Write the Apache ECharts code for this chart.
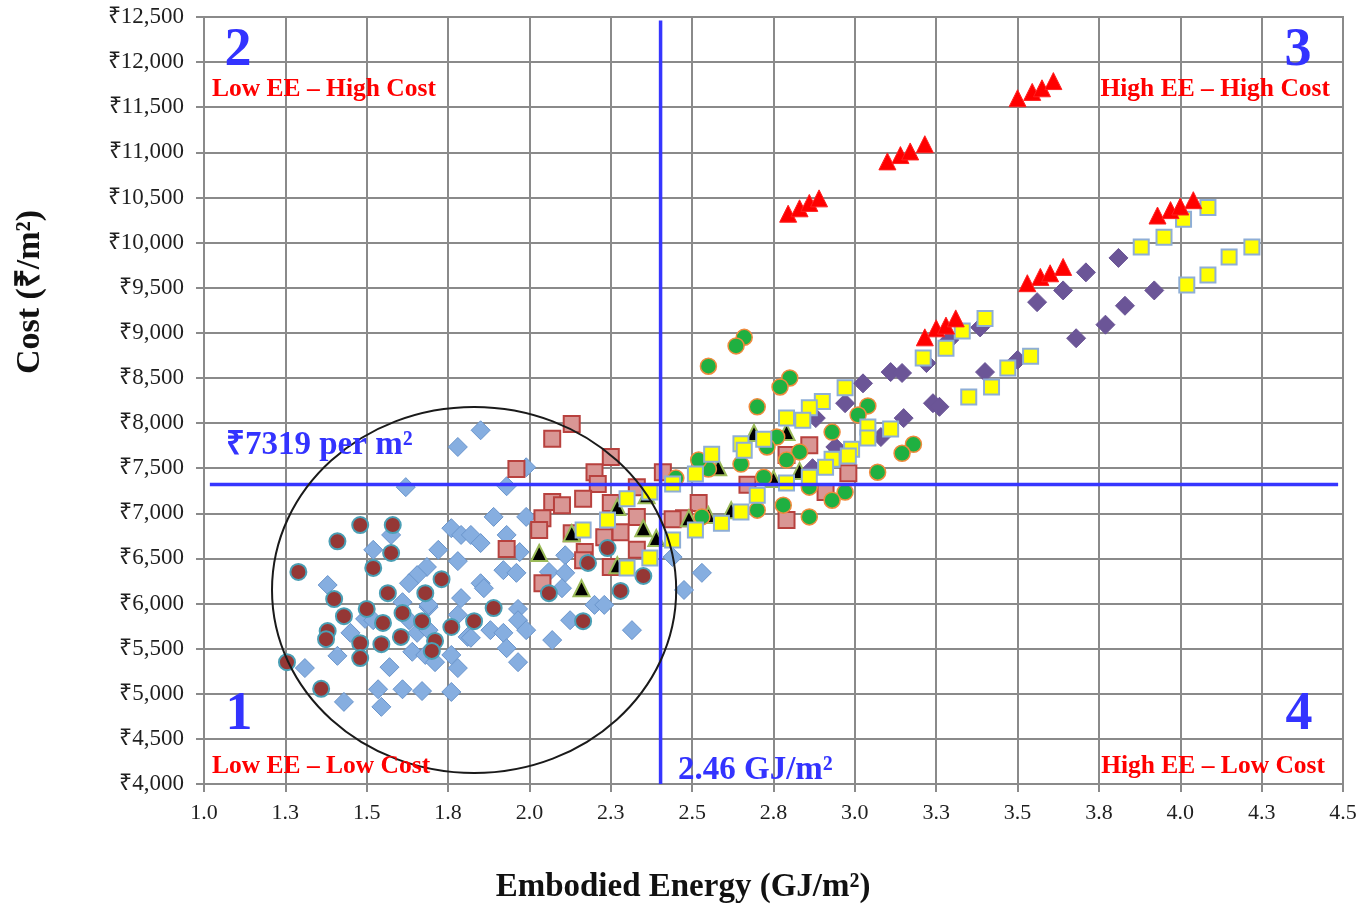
<!DOCTYPE html>
<html><head><meta charset="utf-8">
<script src="https://cdn.jsdelivr.net/npm/echarts@6/dist/echarts.min.js"></script>
<style>html,body{margin:0;padding:0;background:#fff}#c{width:1361px;height:907px}</style>
</head><body><div id="c"></div>
<script>
// ---- data (x = embodied energy GJ/m², y = cost ₹/m²) ----
const blueDiamonds = [
 [1.78,7735],[1.85,7920],[1.62,7290],[1.99,7510],[1.93,7300],[1.52,6595],[1.575,6760],[1.72,6595],
 [1.76,6835],[1.79,6760],[1.78,6470],[1.685,6405],[1.655,6315],[1.63,6225],[1.38,6205],[1.69,5960],
 [1.79,6060],[1.61,6015],[1.495,5830],[1.52,5815],[1.63,5815],[1.78,5875],[1.655,5675],[1.69,5705],
 [1.45,5675],[1.81,5630],[1.41,5420],[1.64,5465],[1.68,5430],[1.71,5350],[1.76,5430],[1.31,5285],
 [1.57,5295],[1.78,5285],[1.535,5050],[1.61,5050],[1.67,5030],[1.76,5020],[1.43,4910],[1.545,4855],
 [1.89,6960],[1.99,6960],[1.82,6760],[1.85,6670],[1.93,6760],[1.97,6570],[2.11,6535],[1.92,6370],
 [1.96,6340],[2.06,6350],[2.11,6340],[1.85,6225],[1.86,6170],[2.10,6170],[1.965,5940],[2.20,5985],
 [2.23,5985],[1.965,5815],[2.125,5815],[1.88,5705],[1.92,5675],[1.99,5705],[2.315,5705],[2.07,5595],
 [1.82,5620],[1.93,5505],[1.965,5350],[2.44,6515],[2.475,6150],[2.53,6340],[1.69,5985]
];
const pinkSquares = [
 [2.13,7990],[2.07,7825],[2.25,7625],[1.96,7490],[2.20,7455],[2.41,7455],[2.21,7325],[2.33,7290],
 [2.07,7125],[2.10,7090],[2.165,7160],[2.25,7115],[2.04,6945],[2.03,6815],[2.33,6960],[2.13,6780],
 [2.23,6735],[2.28,6790],[1.93,6605],[2.17,6570],[2.165,6480],[2.33,6595],[2.25,6405],[2.04,6225],
 [2.86,7755],[2.79,7645],[2.98,7445],[2.91,7235],[2.67,7315],[2.52,7115],[2.475,6945],[2.44,6935],
 [2.79,6925]
];
const darkRedCircles = [
 [1.48,6870],[1.58,6870],[1.41,6690],[1.575,6560],[1.29,6350],[1.52,6395],[1.73,6270],[1.40,6050],
 [1.565,6115],[1.68,6115],[1.43,5860],[1.50,5940],[1.61,5895],[1.55,5785],[1.67,5805],[1.76,5740],
 [1.38,5695],[1.375,5605],[1.48,5560],[1.545,5550],[1.605,5630],[1.71,5585],[1.70,5475],[1.48,5395],
 [1.255,5350],[1.36,5055],[2.24,6615],[2.18,6450],[2.35,6305],[2.06,6115],[2.28,6140],[1.89,5950],
 [1.83,5805],[2.165,5805]
];
const blackTriangles = [
 [2.03,6560],[2.16,6170],[2.13,6780],[2.27,7070],[2.35,6835],[2.39,6725],[2.27,6425],[2.36,7200],
 [2.49,6945],[2.55,6980],[2.62,7035],[2.58,7510],[2.69,7890],[2.79,7900],[2.75,7380],[2.83,7470],
 [2.94,7735]
];
const purpleDiamonds = [
 [3.81,9830],[3.71,9670],[3.64,9470],[3.56,9340],[3.92,9470],[3.83,9300],[3.77,9090],[3.68,8940],
 [3.50,8700],[3.40,8565],[3.385,9060],[3.29,8920],[3.22,8665],[3.11,8565],[3.145,8555],[3.24,8220],
 [3.26,8180],[3.15,8055],[3.08,7845],[3.025,8440],[2.97,8220],[2.88,8055],[2.94,7735],[2.87,7500]
];
const greenCircles = [
 [2.66,8950],[2.635,8855],[2.55,8630],[2.80,8500],[2.77,8400],[2.70,8180],[3.04,8190],[3.01,8090],
 [2.93,7900],[2.76,7845],[2.73,7735],[2.83,7680],[2.79,7590],[2.65,7545],[2.55,7490],[2.52,7590],
 [2.72,7400],[3.07,7455],[2.86,7290],[2.97,7235],[2.93,7145],[2.70,7035],[2.78,7090],[2.86,6960],
 [2.53,6960],[2.45,7390],[3.18,7765],[3.145,7665]
];
const yellowSquares = [
 [4.085,10390],[4.01,10260],[3.95,10060],[3.88,9950],[4.22,9950],[4.15,9840],[4.085,9640],[4.02,9530],
 [3.40,9160],[3.33,9020],[3.28,8830],[3.21,8720],[3.54,8740],[3.47,8610],[3.42,8400],[3.35,8290],
 [2.97,8390],[2.90,8240],[2.86,8170],[2.79,8055],[2.84,8030],[3.04,7955],[3.11,7935],[3.04,7835],
 [2.99,7710],[2.93,7600],[2.91,7510],[2.98,7635],[2.86,7400],[2.72,7820],[2.65,7770],[2.66,7700],
 [2.56,7655],[2.51,7435],[2.44,7325],[2.79,7335],[2.70,7200],[2.65,7015],[2.59,6890],[2.51,6815],
 [2.44,6705],[2.37,7235],[2.30,7160],[2.24,6925],[2.165,6815],[2.37,6505],[2.30,6395]
];
const redTriangles = [
 [3.50,11600],[3.545,11670],[3.575,11710],[3.61,11790],
 [3.10,10900],[3.14,10970],[3.17,11010],[3.215,11090],
 [2.795,10320],[2.83,10380],[2.86,10440],[2.89,10490],
 [3.93,10300],[3.97,10360],[4.00,10400],[4.04,10470],
 [3.53,9550],[3.57,9620],[3.60,9660],[3.64,9730],
 [3.215,8950],[3.25,9050],[3.28,9080],[3.31,9160]
];
// reference lines and annotation geometry (data units)
const avgCost = 7319;
const avgCostSpan = [1.018, 4.485];
const eeLineX = 2.403;
const eeLineSpan = [4000, 12460];
const ellipseCenter = [1.83, 6150];
const ellipseRadii = [0.621, 2028];
// axis ticks
const xMin = 1.0, xMax = 4.5, xStep = 0.25;
const yMin = 4000, yMax = 12500, yStep = 500;
// texts
const xTitle = 'Embodied Energy (GJ/m²)';
const yTitle = 'Cost (₹/m²)';
const avgCostLabel = '₹7319 per m²';
const eeLabel = '2.46 GJ/m²';
const quadNums = ['1','2','3','4'];
const quadLabels = ['Low EE – Low Cost','Low EE – High Cost','High EE – High Cost','High EE – Low Cost'];

const serif = "'Liberation Serif','Times New Roman',serif";
const gridCol = '#8a8a8a';
const chart = echarts.init(document.getElementById('c'), null, {renderer:'canvas'});

function sc(name, data, symbol, size, fill, border, bw) {
  return {type:'scatter', name, data, symbol, symbolSize:size,
    itemStyle:{color:fill, borderColor:border, borderWidth:bw, opacity:1},
    emphasis:{disabled:true}, silent:true, animation:false};
}
const refLine = (data) => ({type:'line', data, showSymbol:false, symbol:'none', z:5, silent:true,
  lineStyle:{color:'#3636ff', width:3.5}, animation:false});

chart.setOption({
  animation:false,
  backgroundColor:'#ffffff',
  grid:{left:204, right:18, top:17, bottom:123, show:true, borderColor:gridCol, borderWidth:2, outerBoundsMode:'none'},
  xAxis:{type:'value', min:xMin, max:xMax, interval:xStep,
    axisLine:{show:true, onZero:false, lineStyle:{color:gridCol, width:2}},
    axisTick:{show:true, length:8, lineStyle:{color:gridCol, width:2}},
    splitLine:{show:true, lineStyle:{color:gridCol, width:2}},
    axisLabel:{formatter:v=>v.toFixed(1), fontFamily:serif, fontSize:22, color:'#1f1f1f', margin:18, hideOverlap:false}},
  yAxis:{type:'value', min:yMin, max:yMax, interval:yStep,
    axisLine:{show:true, onZero:false, lineStyle:{color:gridCol, width:2}},
    axisTick:{show:true, length:8, lineStyle:{color:gridCol, width:2}},
    splitLine:{show:true, lineStyle:{color:gridCol, width:2}},
    axisLabel:{formatter:v=>'₹'+v.toLocaleString('en-US'), fontFamily:serif, fontSize:23, color:'#1f1f1f', margin:20, hideOverlap:false}},
  series:[
    sc('blue', blueDiamonds, 'diamond', 19, '#86aee0', '#6a95cc', 1),
    sc('pink', pinkSquares, 'rect', 16, '#d99694', '#b8413e', 2),
    sc('darkred', darkRedCircles, 'circle', 16, '#953735', '#4a9fb5', 2),
    sc('black', blackTriangles, 'triangle', 16, '#000000', '#9bbb59', 2),
    sc('purple', purpleDiamonds, 'diamond', 19, '#6b5597', '#6b5597', 1),
    sc('green', greenCircles, 'circle', 16, '#1fb041', '#f08a3c', 1.5),
    sc('yellow', yellowSquares, 'rect', 15, '#ffff00', '#8eaed6', 2),
    sc('red', redTriangles, 'triangle', 17, '#ff0000', '#ff2020', 1),
    refLine([[avgCostSpan[0], avgCost],[avgCostSpan[1], avgCost]]),
    refLine([[eeLineX, eeLineSpan[0]],[eeLineX, eeLineSpan[1]]])
  ]
});

const c0 = chart.convertToPixel({gridIndex:0}, ellipseCenter);
const cx1 = chart.convertToPixel({gridIndex:0}, [ellipseCenter[0]+ellipseRadii[0], ellipseCenter[1]+ellipseRadii[1]]);
const txt = (x, y, text, size, fill, align, extra) => Object.assign({type:'text', x, y, z:30, silent:true,
  style:{text, font:'bold '+size+'px '+serif, fill, textAlign:align, textVerticalAlign:'middle'}}, extra||{});
const blue = '#3333ff', red = '#ff0000';
chart.setOption({graphic:[
  {type:'ellipse', z:20, silent:true, shape:{cx:c0[0], cy:c0[1], rx:Math.abs(cx1[0]-c0[0]), ry:Math.abs(c0[1]-cx1[1])},
   style:{fill:'none', stroke:'#1a1a1a', lineWidth:2}},
  txt(239, 715, quadNums[0], 54, blue, 'center'),
  txt(238, 51, quadNums[1], 54, blue, 'center'),
  txt(1298, 51, quadNums[2], 54, blue, 'center'),
  txt(1299, 715, quadNums[3], 54, blue, 'center'),
  txt(212, 766, quadLabels[0], 25.5, red, 'left'),
  txt(212, 89, quadLabels[1], 25.5, red, 'left'),
  txt(1330, 89, quadLabels[2], 25.5, red, 'right'),
  txt(1325, 766, quadLabels[3], 25.5, red, 'right'),
  txt(226, 445, avgCostLabel, 33, blue, 'left'),
  txt(678, 770, eeLabel, 33, blue, 'left'),
  txt(683, 887, xTitle, 33, '#111', 'center'),
  txt(30, 292, yTitle, 34, '#111', 'center', {rotation:Math.PI/2})
]});
</script></body></html>
